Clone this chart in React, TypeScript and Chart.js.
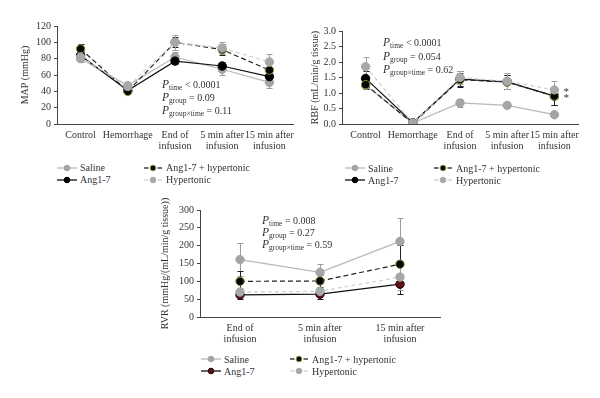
import React, { useEffect, useRef } from "react";
import { Chart, registerables } from "chart.js";
Chart.register(...registerables);

const FONT = '"Liberation Serif", "Times New Roman", serif';
const TEXT = "#333333";
const AXIS = "#444444";

// ---------- data ----------
const seriesNames = ["Saline", "Ang1-7", "Ang1-7 + hypertonic", "Hypertonic"];

const allCategories = [["Control"], ["Hemorrhage"], ["End of", "infusion"], ["5 min after", "infusion"], ["15 min after", "infusion"]];
const rvrCategories = [["End of", "infusion"], ["5 min after", "infusion"], ["15 min after", "infusion"]];

const mapTicks = [0, 20, 40, 60, 80, 100, 120];
const mapSaline = [80, 47, 82, 67, 51];
const mapAng = [84, 41, 77, 71, 58];
const mapAngHyp = [92, 40, 100, 91, 66];
const mapHyp = [82, 46, 100, 93, 76];
const mapSalineErr = [4, 2, 6, 7, 7];
const mapAngErr = [4, 2, 4, 5, 6];
const mapAngHypErr = [6, 2, 6, 7, 7];
const mapHypErr = [4, 3, 9, 7, 10];

const rbfTicks = [0, 0.5, 1.0, 1.5, 2.0, 2.5, 3.0];
const rbfSaline = [1.25, 0.03, 0.68, 0.6, 0.3];
const rbfAng = [1.47, 0.04, 1.45, 1.36, 0.9];
const rbfAngHyp = [1.27, 0.02, 1.43, 1.35, 0.9];
const rbfHyp = [1.85, 0.03, 1.5, 1.38, 1.1];
const rbfSalineErr = [0.08, 0, 0.12, 0.04, 0.04];
const rbfAngErr = [0.25, 0, 0.25, 0.22, 0.28];
const rbfAngHypErr = [0.15, 0, 0.22, 0.22, 0.28];
const rbfHypErr = [0.32, 0, 0.22, 0.25, 0.3];
const rbfMarksAng = ["", "", "", "", "*"];
const rbfMarksHyp = ["", "", "", "", "*"];

const rvrTicks = [0, 50, 100, 150, 200, 250, 300];
const rvrSaline = [161, 125, 212];
const rvrAng = [62, 64, 92];
const rvrAngHyp = [100, 101, 148];
const rvrHyp = [70, 72, 112];
const rvrSalineErr = [46, 23, 66];
const rvrAngErr = [12, 14, 28];
const rvrAngHypErr = [30, 18, 55];
const rvrHypErr = [12, 10, 35];

const mapStats = [["time", "< 0.0001"], ["group", "= 0.09"], ["group×time", "= 0.11"]];
const rbfStats = [["time", "< 0.0001"], ["group", "= 0.054"], ["group×time", "= 0.62"]];
const rvrStats = [["time", "= 0.008"], ["group", "= 0.27"], ["group×time", "= 0.59"]];

// ---------- styles ----------
const baseStyles = [
  { line: "#b8b8b8", point: "#a4a4a4", border: "#a4a4a4", dash: [] as number[], err: "#9c9c9c", order: 3 },
  { line: "#111111", point: "#000000", border: "#000000", dash: [] as number[], err: "#1a1a1a", order: 2 },
  { line: "#222222", point: "#060606", border: "#8a8a2a", dash: [5, 3], err: "#222222", order: 1 },
  { line: "#d0d0d0", point: "#a8a8a8", border: "#a8a8a8", dash: [4, 3], err: "#a0a0a0", order: 0 },
];

const errorBarPlugin = {
  id: "errbars",
  beforeDatasetsDraw(chart: any) {
    const ctx = chart.ctx;
    const ys = chart.scales.y;
    chart.data.datasets.forEach((ds: any, i: number) => {
      const errs = ds.errors;
      if (!errs) return;
      const meta = chart.getDatasetMeta(i);
      ctx.save();
      ctx.strokeStyle = ds.errColor;
      ctx.lineWidth = 1;
      ctx.setLineDash([]);
      meta.data.forEach((pt: any, j: number) => {
        const v = ds.data[j];
        const e = errs[j];
        if (!e) return;
        const x = Math.round(pt.x) + 0.5;
        const yt = Math.round(ys.getPixelForValue(v + e)) + 0.5;
        const yb = Math.round(ys.getPixelForValue(Math.max(0, v - e))) + 0.5;
        ctx.beginPath();
        ctx.moveTo(x, yt);
        ctx.lineTo(x, yb);
        ctx.moveTo(x - 3, yt);
        ctx.lineTo(x + 3, yt);
        ctx.moveTo(x - 3, yb);
        ctx.lineTo(x + 3, yb);
        ctx.stroke();
      });
      ctx.restore();
    });
  },
  afterDatasetsDraw(chart: any) {
    const ctx = chart.ctx;
    chart.data.datasets.forEach((ds: any, i: number) => {
      if (!ds.marks) return;
      const meta = chart.getDatasetMeta(i);
      ctx.save();
      ctx.fillStyle = TEXT;
      ctx.font = `11px ${FONT}`;
      ctx.textAlign = "left";
      ctx.textBaseline = "alphabetic";
      meta.data.forEach((pt: any, j: number) => {
        const m = ds.marks[j];
        if (!m) return;
        ctx.fillText(m, pt.x + 9, pt.y + 5);
      });
      ctx.restore();
    });
  },
};

type PanelProps = {
  left: number; top: number; width: number; height: number;
  padding: { left: number; right: number; top: number; bottom: number };
  yWidth: number; xHeight: number; titlePad: number; title: string;
  categories: string[][]; series: number[][]; errors: number[][];
  marks?: (string[] | undefined)[];
  yTicks: number[]; decimals: number; pointOverride?: (string | undefined)[];
};

function Panel(p: PanelProps) {
  const ref = useRef<HTMLCanvasElement>(null);
  useEffect(() => {
    if (!ref.current) return;
    const datasets = p.series.map((d, i) => {
      const st = baseStyles[i];
      const pc = (p.pointOverride && p.pointOverride[i]) || st.point;
      return {
        label: seriesNames[i],
        data: d,
        borderColor: st.line,
        borderWidth: 1.2,
        borderDash: st.dash,
        backgroundColor: pc,
        pointBackgroundColor: pc,
        pointBorderColor: p.pointOverride && p.pointOverride[i] ? "#1a0000" : st.border,
        pointBorderWidth: 1,
        pointRadius: 4.2,
        tension: 0,
        fill: false,
        order: st.order,
        errors: p.errors[i],
        errColor: st.err,
        marks: p.marks ? p.marks[i] : undefined,
      } as any;
    });
    const chart = new Chart(ref.current, {
      type: "line",
      data: { labels: p.categories as any, datasets },
      options: {
        responsive: false,
        maintainAspectRatio: false,
        animation: false,
        layout: { padding: p.padding },
        plugins: { legend: { display: false }, tooltip: { enabled: false } },
        scales: {
          x: {
            type: "category",
            offset: true,
            grid: { display: false, drawTicks: false },
            border: { display: true, color: AXIS, width: 1 },
            ticks: {
              font: { family: FONT, size: 10, lineHeight: 1.1 },
              color: TEXT,
              padding: 6,
              maxRotation: 0,
              autoSkip: false,
            },
            afterFit: (s: any) => {
              s.height = p.xHeight;
              s.paddingLeft = 0;
              s.paddingRight = 0;
            },
          },
          y: {
            min: p.yTicks[0],
            max: p.yTicks[p.yTicks.length - 1],
            grid: { display: true, drawOnChartArea: false, drawTicks: true, tickLength: 3, color: AXIS },
            border: { display: true, color: AXIS, width: 1 },
            ticks: {
              font: { family: FONT, size: 10 },
              color: TEXT,
              padding: 3,
              callback: (v: any) => Number(v).toFixed(p.decimals),
            },
            title: {
              display: true,
              text: p.title,
              font: { family: FONT, size: 10 },
              color: TEXT,
              padding: { top: p.titlePad, bottom: 0 },
            },
            afterBuildTicks: (s: any) => {
              s.ticks = p.yTicks.map((v) => ({ value: v }));
            },
            afterFit: (s: any) => {
              s.width = p.yWidth;
              s.paddingTop = 0;
              s.paddingBottom = 0;
            },
          },
        },
      } as any,
      plugins: [errorBarPlugin],
    });
    return () => chart.destroy();
  }, []);
  return (
    <div style={{ position: "absolute", left: p.left, top: p.top, width: p.width, height: p.height }}>
      <canvas ref={ref} width={p.width} height={p.height} style={{ width: p.width, height: p.height, display: "block" }} />
    </div>
  );
}

function Stats({ x, y, rows, gap }: { x: number; y: number; rows: string[][]; gap: number }) {
  return (
    <>
      {rows.map((r, i) => (
        <div
          key={i}
          style={{
            position: "absolute",
            left: x,
            top: y + i * gap,
            fontFamily: FONT,
            fontSize: 10,
            color: TEXT,
            whiteSpace: "nowrap",
            lineHeight: "13px",
          }}
        >
          <i style={{ fontSize: 11.5 }}>P</i>
          <span style={{ fontSize: 7.5, position: "relative", top: 2 }}>{r[0]}</span> {r[1]}
        </div>
      ))}
    </>
  );
}

function Icon({ idx, pointColor }: { idx: number; pointColor?: string }) {
  const st = baseStyles[idx];
  const dashed = st.dash.length > 0;
  const pc = pointColor || st.point;
  return (
    <svg width={20} height={10} style={{ display: "block" }}>
      {dashed ? (
        <>
          <line x1={1} y1={5} x2={5.5} y2={5} stroke={st.line} strokeWidth={1.3} />
          <line x1={14.5} y1={5} x2={19} y2={5} stroke={st.line} strokeWidth={1.3} />
        </>
      ) : (
        <line x1={0} y1={5} x2={20} y2={5} stroke={st.line} strokeWidth={1.3} />
      )}
      <circle cx={10} cy={5} r={2.8} fill={pc} stroke={pointColor ? "#1a0000" : st.border} strokeWidth={1} />
    </svg>
  );
}

function Legend({ x1, x2, y, override }: { x1: number; x2: number; y: number; override?: (string | undefined)[] }) {
  const pos = [
    [x1, y],
    [x1, y + 12],
    [x2, y],
    [x2, y + 12],
  ];
  return (
    <>
      {seriesNames.map((n, i) => (
        <div
          key={n}
          style={{
            position: "absolute",
            left: pos[i][0],
            top: pos[i][1] - 6,
            height: 12,
            display: "flex",
            alignItems: "center",
            fontFamily: FONT,
            fontSize: 10,
            color: TEXT,
            whiteSpace: "nowrap",
          }}
        >
          <Icon idx={i} pointColor={override ? override[i] : undefined} />
          <span style={{ marginLeft: 3 }}>{n}</span>
        </div>
      ))}
    </>
  );
}

export default function App() {
  const rvrPoints = [undefined, "#5a1414", undefined, undefined];
  return (
    <div style={{ position: "absolute", left: 0, top: 0, width: 600, height: 398, background: "#fff", overflow: "hidden" }}>
      <Panel
        left={0} top={0} width={300} height={160}
        padding={{ left: 0, right: 7, top: 26, bottom: 0 }}
        yWidth={57} xHeight={36} titlePad={19} title="MAP (mmHg)"
        categories={allCategories}
        series={[mapSaline, mapAng, mapAngHyp, mapHyp]}
        errors={[mapSalineErr, mapAngErr, mapAngHypErr, mapHypErr]}
        yTicks={mapTicks} decimals={0}
      />
      <Panel
        left={300} top={0} width={300} height={160}
        padding={{ left: 0, right: 22, top: 31, bottom: 0 }}
        yWidth={42} xHeight={36} titlePad={9} title="RBF (mL/min/g tissue)"
        categories={allCategories}
        series={[rbfSaline, rbfAng, rbfAngHyp, rbfHyp]}
        errors={[rbfSalineErr, rbfAngErr, rbfAngHypErr, rbfHypErr]}
        marks={[undefined, rbfMarksAng, undefined, rbfMarksHyp]}
        yTicks={rbfTicks} decimals={1}
      />
      <Panel
        left={150} top={190} width={300} height={160}
        padding={{ left: 0, right: 10, top: 20, bottom: 0 }}
        yWidth={50} xHeight={33} titlePad={9} title="RVR (mmHg/(mL/min/g tissue))"
        categories={rvrCategories}
        series={[rvrSaline, rvrAng, rvrAngHyp, rvrHyp]}
        errors={[rvrSalineErr, rvrAngErr, rvrAngHypErr, rvrHypErr]}
        yTicks={rvrTicks} decimals={0} pointOverride={rvrPoints}
      />
      <Stats x={162} y={78} rows={mapStats} gap={13} />
      <Stats x={383} y={36} rows={rbfStats} gap={13.5} />
      <Stats x={262} y={214} rows={rvrStats} gap={12} />
      <Legend x1={57} x2={143} y={167.5} />
      <Legend x1={345} x2={433} y={168} />
      <Legend x1={201} x2={289} y={359} override={rvrPoints} />
    </div>
  );
}
